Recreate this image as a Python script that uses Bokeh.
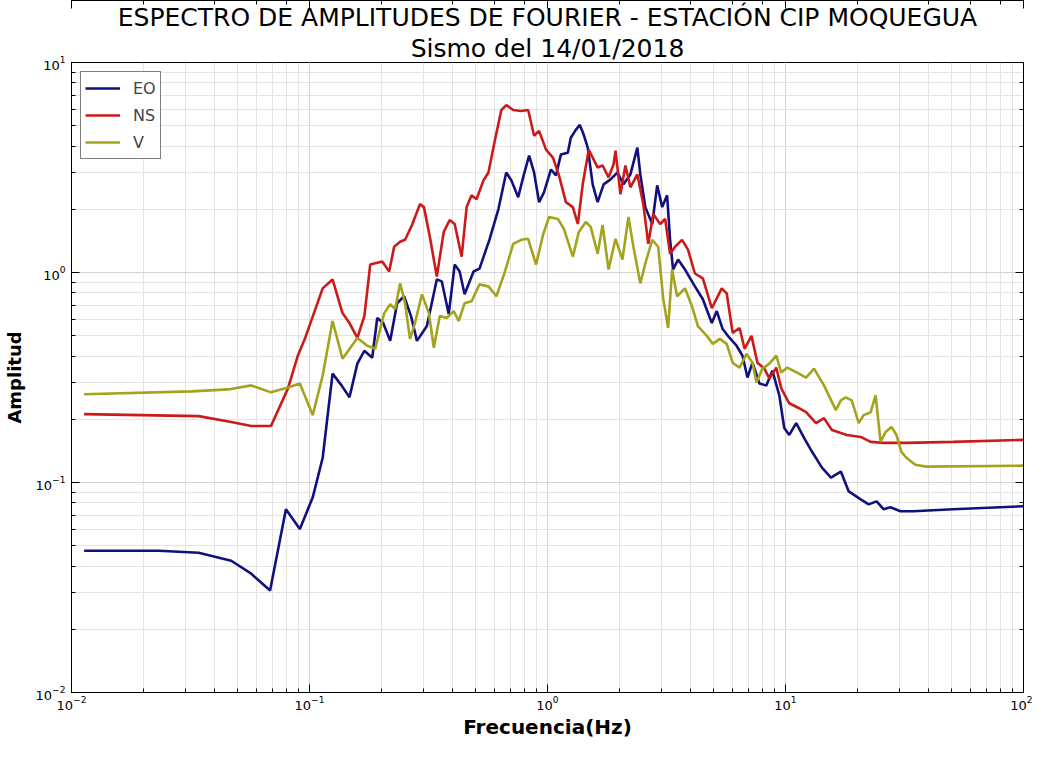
from bokeh.plotting import figure
from bokeh.models import Legend, LegendItem, Title, LogAxis, Range1d, CustomJSTickFormatter
from bokeh.embed import file_html
from bokeh.resources import INLINE

title_line1 = "ESPECTRO DE AMPLITUDES DE FOURIER - ESTACIÓN CIP MOQUEGUA"
title_line2 = "Sismo del 14/01/2018"
x_label = "Frecuencia(Hz)"
y_label = "Amplitud"
series_names = ["EO", "NS", "V"]

eo_freq = [0.0113, 0.0233, 0.0342, 0.0469, 0.0569, 0.0683, 0.0796, 0.0911, 0.1032, 0.1136,
           0.125, 0.1363, 0.1472, 0.1589, 0.170, 0.1835, 0.1926, 0.204, 0.2183, 0.2334,
           0.2497, 0.267, 0.2828, 0.3113, 0.3427, 0.3596, 0.3846, 0.4074, 0.4274, 0.4484,
           0.489, 0.518, 0.570, 0.622, 0.671, 0.705, 0.753, 0.790, 0.837, 0.878,
           0.922, 0.967, 1.034, 1.085, 1.138, 1.217, 1.253, 1.315, 1.367, 1.420,
           1.476, 1.548, 1.624, 1.721, 1.840, 1.969, 2.085, 2.230, 2.385, 2.455,
           2.576, 2.755, 2.890, 3.033, 3.181, 3.274, 3.370, 3.537, 3.782, 4.163,
           4.496, 4.901, 5.142, 5.445, 5.824, 6.229, 6.598, 6.922, 7.264, 7.770,
           8.311, 8.808, 9.419, 9.881, 10.37, 11.09, 11.97, 12.93, 14.23, 15.52,
           17.08, 18.44, 20.70, 22.36, 24.14, 25.82, 27.62, 30.40, 34.44, 50.56, 100.0]
eo_amp = [0.0473, 0.0473, 0.0463, 0.0424, 0.0368, 0.0306, 0.0746, 0.060, 0.085, 0.1312,
          0.330, 0.290, 0.2545, 0.368, 0.424, 0.393, 0.607, 0.5745, 0.4726, 0.714,
          0.771, 0.620, 0.4726, 0.556, 0.927, 0.907, 0.634, 1.091, 1.011, 0.787,
          1.011, 1.044, 1.431, 2.004, 2.995, 2.746, 2.283, 2.837, 3.603, 2.995,
          2.162, 2.411, 3.095, 2.899, 3.642, 3.722, 4.380, 4.777, 5.044, 4.525,
          3.929, 2.629, 2.162, 2.629, 2.776, 2.995, 2.629, 2.931, 3.929, 2.931,
          2.048, 1.702, 2.601, 2.048, 2.333, 1.431, 1.033, 1.152, 1.033, 0.859,
          0.746, 0.5745, 0.655, 0.538, 0.488, 0.448, 0.4015, 0.316, 0.372, 0.296,
          0.290, 0.341, 0.260, 0.1817, 0.1684, 0.1919, 0.1631, 0.140, 0.1177, 0.1056,
          0.1127, 0.0907, 0.0831, 0.0787, 0.0813, 0.0746, 0.0762, 0.0730, 0.0730, 0.0746, 0.0771]

ns_freq = [0.0113, 0.0342, 0.0469, 0.0569, 0.0689, 0.0812, 0.0893, 0.0956, 0.1136, 0.125,
           0.1376, 0.1472, 0.1589, 0.170, 0.180, 0.2021, 0.2162, 0.2268, 0.2402, 0.2521,
           0.2696, 0.2911, 0.3025, 0.3204, 0.3427, 0.3665, 0.3883, 0.4074, 0.4358, 0.4573,
           0.4797, 0.5033, 0.5383, 0.5648, 0.5982, 0.6397, 0.6714, 0.7181, 0.7754, 0.8293,
           0.8784, 0.9216, 0.9856, 1.054, 1.117, 1.195, 1.278, 1.341, 1.406, 1.490,
           1.548, 1.624, 1.704, 1.805, 1.894, 1.931, 2.025, 2.125, 2.230, 2.385,
           2.527, 2.651, 2.781, 2.975, 3.121, 3.274, 3.436, 3.675, 3.893, 4.163,
           4.496, 4.901, 5.395, 5.661, 5.997, 6.413, 6.730, 7.195, 7.622, 8.154,
           8.553, 9.149, 9.600, 10.37, 11.41, 12.20, 13.44, 14.51, 15.67, 17.08,
           18.09, 20.70, 22.79, 25.82, 32.20, 50.56, 100.0]
ns_amp = [0.2116, 0.207, 0.194, 0.1857, 0.1857, 0.2806, 0.4015, 0.4831, 0.8405, 0.927,
          0.6407, 0.5745, 0.488, 0.620, 1.091, 1.127, 1.011, 1.326, 1.400, 1.431,
          1.684, 2.116, 2.048, 1.479, 0.957, 1.561, 1.778, 1.702, 1.190, 2.048,
          2.333, 2.234, 2.746, 2.995, 4.149, 5.937, 6.269, 5.937, 5.873, 5.937,
          4.477, 4.726, 3.845, 3.526, 2.899, 2.162, 2.048, 1.702, 2.629, 3.845,
          3.526, 3.162, 3.231, 2.837, 3.267, 3.803, 2.359, 3.231, 2.545, 2.931,
          2.116, 1.370, 1.898, 1.702, 1.798, 1.229, 1.326, 1.431, 1.284, 0.989,
          0.937, 0.676, 0.8405, 0.796, 0.5156, 0.5443, 0.4333, 0.499, 0.372, 0.3486,
          0.3128, 0.3525, 0.2806, 0.2384, 0.2258, 0.2162, 0.1919, 0.2025, 0.1778, 0.1721,
          0.1684, 0.1648, 0.1561, 0.1544, 0.1544, 0.1561, 0.1595]

v_freq = [0.0113, 0.0320, 0.0456, 0.0569, 0.0689, 0.0812, 0.0911, 0.1032, 0.1136, 0.125,
          0.1376, 0.1589, 0.175, 0.1889, 0.206, 0.2183, 0.2289, 0.2402, 0.2521, 0.2644,
          0.2774, 0.2968, 0.3174, 0.333, 0.3527, 0.3772, 0.4035, 0.4234, 0.4484, 0.4797,
          0.518, 0.5648, 0.6098, 0.6586, 0.7181, 0.7754, 0.8293, 0.8954, 0.9577, 1.015,
          1.106, 1.172, 1.278, 1.354, 1.448, 1.519, 1.624, 1.704, 1.805, 1.931,
          2.065, 2.188, 2.296, 2.455, 2.576, 2.755, 2.918, 3.062, 3.213, 3.339,
          3.503, 3.782, 4.045, 4.285, 4.672, 4.949, 5.293, 5.661, 5.997, 6.413,
          6.860, 7.264, 7.551, 7.998, 8.553, 9.149, 9.600, 10.17, 11.19, 12.20,
          13.18, 14.51, 16.28, 17.08, 17.92, 18.98, 20.31, 21.30, 22.79, 23.91,
          25.08, 26.33, 27.88, 29.25, 30.69, 32.20, 35.11, 39.01, 100.0]
v_amp = [0.263, 0.2716, 0.2775, 0.290, 0.2687, 0.2837, 0.296, 0.2093, 0.3231, 0.5873,
         0.3886, 0.488, 0.448, 0.4333, 0.6407, 0.7063, 0.669, 0.8872, 0.714, 0.4831,
         0.5745, 0.787, 0.6407, 0.438, 0.620, 0.607, 0.655, 0.5873, 0.714, 0.730,
         0.8778, 0.859, 0.771, 0.989, 1.370, 1.431, 1.447, 1.091, 1.511, 1.837,
         1.798, 1.612, 1.190, 1.561, 1.740, 1.648, 1.229, 1.684, 1.033, 1.447,
         1.152, 1.837, 1.326, 0.8872, 1.103, 1.431, 1.326, 0.7544, 0.5443, 1.033,
         0.771, 0.8405, 0.6914, 0.556, 0.499, 0.4573, 0.4831, 0.4573, 0.372, 0.3525,
         0.4104, 0.372, 0.2996, 0.3486, 0.368, 0.4015, 0.3338, 0.3525, 0.3338, 0.316,
         0.3486, 0.290, 0.221, 0.2463, 0.2545, 0.2463, 0.1919, 0.2093, 0.2162, 0.260,
         0.1561, 0.174, 0.1837, 0.1684, 0.140, 0.1312, 0.1216, 0.119, 0.1203]

colors = ["#10107e", "#cc1a1a", "#a3a31e"]
FONT = "DejaVu Sans"

p = figure(width=1032, height=741, x_axis_type="log", y_axis_type="log",
           x_range=Range1d(0.01, 100), y_range=Range1d(0.01, 10),
           output_backend="svg", toolbar_location=None,
           min_border_left=64, min_border_right=9, min_border_top=56, min_border_bottom=49)

p.add_layout(Title(text=title_line2, align="center", text_font=FONT, text_font_size="25px",
                   text_font_style="normal", text_color="black", standoff=0), "above")
p.add_layout(Title(text=title_line1, align="center", text_font=FONT, text_font_size="25px",
                   text_font_style="normal", text_color="black", standoff=0), "above")
p.add_layout(Title(text=x_label, align="center", text_font=FONT, text_font_size="20px",
                   text_font_style="bold", text_color="black", standoff=0), "below")

renderers = []
for fr, am, c in zip([eo_freq, ns_freq, v_freq], [eo_amp, ns_amp, v_amp], colors):
    r = p.line(fr, am, line_color=c, line_width=2.6)
    renderers.append(r)

legend = Legend(items=[LegendItem(label=n, renderers=[r]) for n, r in zip(series_names, renderers)],
                location="top_left", border_line_color="black", border_line_width=1,
                label_text_font=FONT, label_text_font_size="16px", glyph_width=35, glyph_height=24,
                label_height=24, spacing=3, padding=4, margin=9, label_standoff=13,
                background_fill_alpha=1.0)
p.add_layout(legend)

for ax in [p.xaxis[0], p.yaxis[0]]:
    ax.major_tick_in = 8
    ax.major_tick_out = 0
    ax.minor_tick_in = 4
    ax.minor_tick_out = 0
    ax.axis_line_color = "black"
    ax.major_tick_line_color = "black"
    ax.minor_tick_line_color = "black"
    ax.major_label_text_font = FONT
    ax.major_label_text_font_size = "13px"
    ax.major_label_text_color = "black"
    ax.axis_label_text_font = FONT
    ax.axis_label_text_font_style = "bold"
    ax.axis_label_text_color = "black"

p.yaxis.axis_label = y_label
p.yaxis.axis_label_text_font_size = "18px"
p.xaxis.major_label_standoff = 3
p.yaxis.major_label_standoff = 6
p.yaxis.axis_label_standoff = 8

for loc in ["above", "right"]:
    edge_axis = LogAxis(formatter=CustomJSTickFormatter(code="return '';"), major_label_standoff=0,
                        axis_label_standoff=0, major_label_text_font_size="1px",
                        major_tick_in=8, major_tick_out=0, minor_tick_in=4, minor_tick_out=0,
                        axis_line_color="black")
    p.add_layout(edge_axis, loc)

p.xgrid.grid_line_color = "#d4d4d4"
p.ygrid.grid_line_color = "#d4d4d4"
p.xgrid.minor_grid_line_color = "#e4e4e4"
p.ygrid.minor_grid_line_color = "#e4e4e4"
p.outline_line_color = "black"
p.background_fill_color = "white"
p.border_fill_color = "white"

open("out.html", "w").write(file_html(p, INLINE))
